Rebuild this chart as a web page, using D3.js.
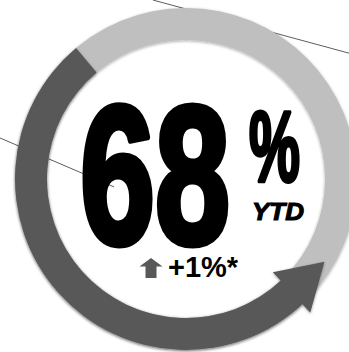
<!DOCTYPE html>
<html lang="en">
<head>
  <meta charset="utf-8" />
  <title>68% YTD</title>
  <script src="https://d3js.org/d3.v7.min.js"></script>
  <style>
    html, body { margin: 0; padding: 0; background: #fff; }
    svg { display: block; }
    .big { font-family: "Liberation Sans", Arial, sans-serif; font-weight: bold; fill: #000; stroke: #000; stroke-linejoin: round; }
    .guide { stroke: #333; stroke-width: 0.8; }
  </style>
</head>
<body>
<div id="chart"></div>
<script>
  // values
  const ytdShare = [68];          // percent
  const shareLabel = ["68"];
  const unitLabel = ["%"];
  const periodLabel = ["YTD"];
  const changeLabel = ["+1%*"];
  // thin leader lines left over on the slide, as fractions of the canvas
  const guides = [
    { x1: 0.438, y1: 0.0, x2: 1.0, y2: 0.151 },
    { x1: 0.0, y1: 0.392, x2: 0.327, y2: 0.531 }
  ];

  const width = 349, height = 352;
  const cx = 186, cy = 179;
  const rInner = 139, rOuter = 171;
  const deg = Math.PI / 180;

  const svg = d3.select("#chart").append("svg")
    .attr("width", width)
    .attr("height", height);

  const defs = svg.append("defs");
  const f = defs.append("filter").attr("id", "shadow")
    .attr("x", "-10%").attr("y", "-10%").attr("width", "120%").attr("height", "120%");
  f.append("feDropShadow").attr("dx", 0).attr("dy", 1).attr("stdDeviation", 1.5)
    .attr("flood-color", "#000").attr("flood-opacity", 0.35);

  // gauge sweeps counter-clockwise from the top-left
  const angle = d3.scaleLinear().domain([0, 100]).range([-40 * deg, -309 * deg]);
  const fx = d3.scaleLinear().domain([0, 1]).range([0, width]);
  const fy = d3.scaleLinear().domain([0, 1]).range([0, height]);

  svg.append("g").selectAll("line")
    .data(guides)
    .join("line")
    .attr("class", "guide")
    .attr("x1", d => fx(d.x1)).attr("y1", d => fy(d.y1))
    .attr("x2", d => fx(d.x2)).attr("y2", d => fy(d.y2));

  const g = svg.append("g").attr("transform", `translate(${cx},${cy})`);

  // track
  g.append("path")
    .attr("d", d3.arc()({ innerRadius: rInner, outerRadius: rOuter, startAngle: 0, endAngle: 2 * Math.PI }))
    .attr("fill", "#bfbfbf")
    .attr("filter", "url(#shadow)");

  // value arc + arrow head
  const a0 = angle(0), a1 = angle(ytdShare[0]);
  const arrow = g.append("g").attr("filter", "url(#shadow)");
  arrow.append("path")
    .attr("d", d3.arc()({ innerRadius: rInner, outerRadius: rOuter, startAngle: a1 - 0.01, endAngle: a0 }))
    .attr("fill", "#595959");

  const rMid = (rInner + rOuter) / 2;
  const bx = rMid * Math.sin(a1), by = -rMid * Math.cos(a1);
  const nx = Math.sin(a1), ny = -Math.cos(a1);      // outward
  const tx = -Math.cos(a1), ty = -Math.sin(a1);     // direction of travel
  const headLen = 45, headHalf = 27.5;
  arrow.append("path")
    .attr("d", d3.line()([
      [bx - headHalf * nx, by - headHalf * ny],
      [bx + headLen * tx, by + headLen * ty],
      [bx + headHalf * nx, by + headHalf * ny]
    ]) + "Z")
    .attr("fill", "#595959");

  // big number
  svg.append("text")
    .attr("class", "big")
    .attr("x", 80).attr("y", 243)
    .attr("font-size", 196)
    .attr("stroke-width", 7)
    .attr("textLength", 150)
    .attr("lengthAdjust", "spacingAndGlyphs")
    .text(shareLabel[0]);

  svg.append("text")
    .attr("class", "big")
    .attr("x", 249).attr("y", 181)
    .attr("font-size", 100)
    .attr("stroke-width", 4)
    .attr("textLength", 51)
    .attr("lengthAdjust", "spacingAndGlyphs")
    .text(unitLabel[0]);

  svg.append("text")
    .attr("x", 252).attr("y", 220)
    .attr("font-family", "Liberation Sans, Arial, sans-serif")
    .attr("font-weight", "bold")
    .attr("font-style", "italic")
    .attr("font-size", 23)
    .attr("stroke", "#000").attr("stroke-width", 1)
    .attr("textLength", 52)
    .attr("lengthAdjust", "spacingAndGlyphs")
    .text(periodLabel[0]);

  // change indicator
  const up = svg.append("g").attr("transform", "translate(151,258)");
  up.append("path")
    .attr("d", "M0,0 L11.5,8.5 L5.5,8.5 L5.5,20 L-5.5,20 L-5.5,8.5 L-11.5,8.5 Z")
    .attr("fill", "#595959");

  svg.append("text")
    .attr("x", 168).attr("y", 277)
    .attr("font-family", "Liberation Sans, Arial, sans-serif")
    .attr("font-weight", "bold")
    .attr("font-size", 29)
    .attr("fill", "#000")
    .text(changeLabel[0]);
</script>
</body>
</html>
